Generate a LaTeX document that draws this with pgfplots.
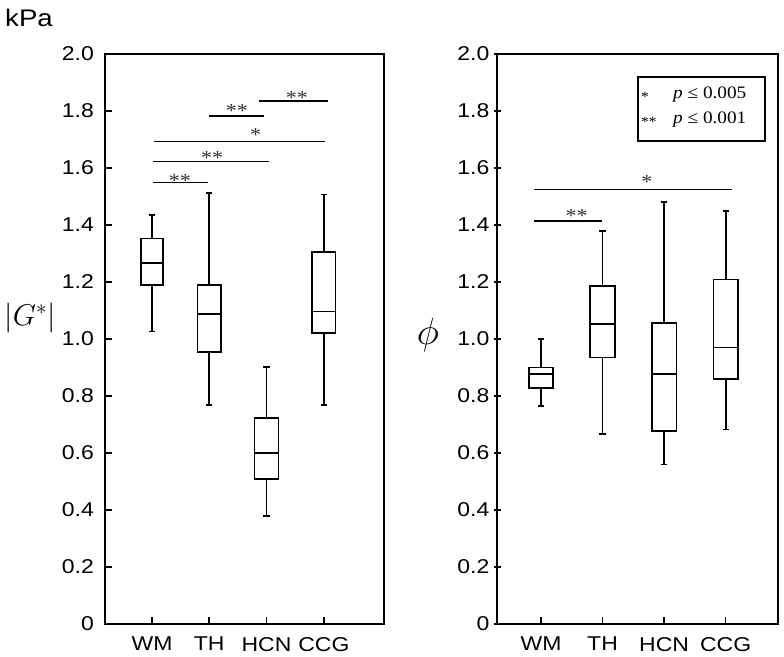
\RequirePackage{fix-cm}
\documentclass[border=0pt]{standalone}
\usepackage{pgfplots}
\pgfplotsset{compat=1.18}
\usepgfplotslibrary{statistics}
\usepackage{fontspec}
\setmainfont{Liberation Sans}[FakeStretch=1.15]
\newfontfamily\seriff{Liberation Serif}[FakeStretch=1.1]

\tikzset{st/.style={anchor=base, inner sep=0pt, text=black!80, font=\seriff\fontsize{20}{22}\selectfont}}
\pgfplotsset{
  bx/.style={black, line width=1.7pt, solid, mark=none},
  sig/.style={black, line width=1.6pt, mark=none},
  common/.style={
    scale only axis, height=570pt, ymin=0, ymax=2,
    boxplot/draw direction=y,
    ytick={0,0.2,0.4,0.6,0.8,1,1.2,1.4,1.6,1.8,2},
    yticklabels={0,0.2,0.4,0.6,0.8,1.0,1.2,1.4,1.6,1.8,2.0},
    xtick={1,2,3,4}, xticklabels={WM,TH,HCN,CCG},
    tick pos=left, xtick align=inside,
    axis line style={line width=1.7pt},
    every tick/.style={black, line width=1.6pt},
    major tick length=7pt,
    tick label style={font=\fontsize{20}{22}\selectfont, inner sep=0pt},
    xticklabel shift=13pt,
    clip=false,
  }
}

\begin{document}
\begin{tikzpicture}
\useasboundingbox (0pt,0pt) rectangle (784pt,-656pt);

\node[anchor=center, inner sep=0pt, font=\fontsize{24}{26}\selectfont] at (29pt,-18pt) {kPa};
\node[anchor=center, inner sep=0pt, font=\fontsize{30}{34}\selectfont] at (30pt,-318pt) {$\left|G^{*}\right|$};
\node[anchor=center, inner sep=0pt, font=\fontsize{38}{40}\selectfont] at (428pt,-335pt) {$\phi$};

% Left axis
\begin{axis}[common, at={(105pt,-624pt)}, anchor=south west, width=279pt,
  xmin=0.18, xmax=5.05, ytick align=inside, yticklabel shift=11pt]
\addplot[bx, boxplot prepared={draw position=1, lower whisker=1.026, lower quartile=1.189, median=1.267, upper quartile=1.353, upper whisker=1.435, box extend=0.39, whisker extend=0.11}] coordinates {};
\addplot[bx, boxplot prepared={draw position=2, lower whisker=0.768, lower quartile=0.955, median=1.087, upper quartile=1.189, upper whisker=1.513, box extend=0.41, whisker extend=0.11}] coordinates {};
\addplot[bx, boxplot prepared={draw position=3, lower whisker=0.379, lower quartile=0.508, median=0.601, upper quartile=0.722, upper whisker=0.903, box extend=0.42, whisker extend=0.11}] coordinates {};
\addplot[bx, boxplot prepared={draw position=4, lower whisker=0.768, lower quartile=1.020, median=1.097, upper quartile=1.306, upper whisker=1.507, box extend=0.41, whisker extend=0.11}] coordinates {};
% significance bars
\addplot[sig] coordinates {(1.017,1.549) (1.977,1.549)};
\addplot[sig] coordinates {(1.017,1.623) (3.04,1.623)};
\addplot[sig] coordinates {(1.035,1.693) (4.02,1.693)};
\addplot[sig] coordinates {(1.994,1.783) (2.95,1.783)};
\addplot[sig] coordinates {(2.87,1.835) (4.07,1.835)};
\node[st] at (axis cs:1.489,1.532) {**};
\node[st] at (axis cs:2.05,1.613) {**};
\node[st] at (axis cs:2.81,1.693) {*};
\node[st] at (axis cs:2.48,1.777) {**};
\node[st] at (axis cs:3.53,1.823) {**};
\end{axis}

% Right axis
\begin{axis}[common, at={(497pt,-624pt)}, anchor=south west, width=281pt,
  xmin=0.285, xmax=4.85, ytick align=center, yticklabel shift=4pt]
\addplot[bx, boxplot prepared={draw position=1, lower whisker=0.765, lower quartile=0.827, median=0.877, upper quartile=0.900, upper whisker=0.999, box extend=0.40, whisker extend=0.1}] coordinates {};
\addplot[bx, boxplot prepared={draw position=2, lower whisker=0.666, lower quartile=0.935, median=1.052, upper quartile=1.186, upper whisker=1.380, box extend=0.40, whisker extend=0.1}] coordinates {};
\addplot[bx, boxplot prepared={draw position=3, lower whisker=0.560, lower quartile=0.677, median=0.877, upper quartile=1.055, upper whisker=1.480, box extend=0.40, whisker extend=0.1}] coordinates {};
\addplot[bx, boxplot prepared={draw position=4, lower whisker=0.683, lower quartile=0.859, median=0.970, upper quartile=1.209, upper whisker=1.449, box extend=0.40, whisker extend=0.1}] coordinates {};
\addplot[sig] coordinates {(0.891,1.414) (1.996,1.414)};
\addplot[sig] coordinates {(0.886,1.524) (4.11,1.524)};
\node[st] at (axis cs:1.58,1.409) {**};
\node[st] at (axis cs:2.72,1.528) {*};
\end{axis}

% legend box
\node[draw, line width=1.6pt, minimum width=127pt, minimum height=64pt, anchor=north west, inner sep=0pt] at (637pt,-76pt) {};
\node[anchor=base west, inner sep=0pt, font=\seriff\fontsize{14}{15}\selectfont] at (641pt,-101pt) {*};
\node[anchor=base west, inner sep=0pt, font=\seriff\fontsize{17.5}{19}\selectfont] at (673pt,-98pt) {\textit{p} ≤ 0.005};
\node[anchor=base west, inner sep=0pt, font=\seriff\fontsize{14}{15}\selectfont] at (641pt,-126pt) {**};
\node[anchor=base west, inner sep=0pt, font=\seriff\fontsize{17.5}{19}\selectfont] at (673pt,-123pt) {\textit{p} ≤ 0.001};
\end{tikzpicture}
\end{document}
